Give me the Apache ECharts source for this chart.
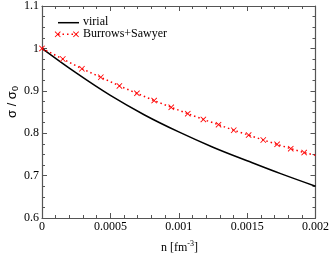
<!DOCTYPE html>
<html><head><meta charset="utf-8">
<script src="https://cdn.jsdelivr.net/npm/echarts@6/dist/echarts.min.js"></script>
<style>html,body{margin:0;padding:0;background:#fff}#c{width:332px;height:256px}</style>
</head><body><div id="c"></div>
<script>
// Data
const virialX = [0, 0.00025, 0.0005, 0.00075, 0.001, 0.00125, 0.0015, 0.00175, 0.002];
const virialY = [1.0, 0.942, 0.889, 0.843, 0.803, 0.767, 0.735, 0.704, 0.675];
const bsX = [0, 0.000152, 0.000292, 0.000430, 0.000566, 0.000694, 0.000820, 0.000945, 0.001066, 0.001180, 0.001291, 0.001402, 0.001511, 0.001618, 0.001719, 0.001819, 0.001917, 0.002];
const bsY = [1.0, 0.975, 0.952, 0.932, 0.9115, 0.894, 0.877, 0.861, 0.846, 0.8325, 0.820, 0.807, 0.7955, 0.784, 0.7737, 0.7636, 0.7542, 0.748];
const bsMarked = [1,1,1,1,1,1,1,1,1,1,1,1,1,1,1,1,1,0];
const xTicks = ['0', '0.0005', '0.001', '0.0015', '0.002'];
const yTicks = ['0.6', '0.7', '0.8', '0.9', '1', '1.1'];

const serif = 'Liberation Serif';
const axisColor = '#555';
const crossPath = 'path://M0,1L1,0L5,4L9,0L10,1L6,5L10,9L9,10L5,6L1,10L0,9L4,5Z';
const crossPts = [[0,1],[1,0],[5,4],[9,0],[10,1],[6,5],[10,9],[9,10],[5,6],[1,10],[0,9],[4,5]];
function crossAt(cx, cy, size) {
  return crossPts.map(p => [cx + (p[0] - 5) * size / 10, cy + (p[1] - 5) * size / 10]);
}

function axisCommon(show, pos, min, max, interval, minorSplit, labels) {
  return {
    type: 'value', position: pos, min: min, max: max, interval: interval,
    axisLine: {show: true, onZero: false, lineStyle: {color: axisColor, width: 1.2}},
    axisTick: {show: true, inside: true, length: 5, lineStyle: {color: axisColor}},
    minorTick: {show: true, splitNumber: minorSplit, length: 3, lineStyle: {color: axisColor}},
    splitLine: {show: false},
    axisLabel: show ? {
      show: true, fontFamily: serif, fontSize: 12, color: '#000', margin: 3,
      formatter: function (v) {
        const idx = Math.round((v - min) / interval);
        return labels[idx] !== undefined ? labels[idx] : '';
      }
    } : {show: false}
  };
}

const chart = echarts.init(document.getElementById('c'));
chart.setOption({
  animation: false,
  backgroundColor: '#fff',
  grid: {left: 42, right: 14, top: 5, bottom: 38},
  xAxis: [
    axisCommon(true, 'bottom', 0, 0.002, 0.0005, 5, xTicks),
    axisCommon(false, 'top', 0, 0.002, 0.0005, 5, xTicks)
  ],
  yAxis: [
    axisCommon(true, 'left', 0.6, 1.1, 0.1, 4, yTicks),
    axisCommon(false, 'right', 0.6, 1.1, 0.1, 4, yTicks)
  ],
  series: [
    {
      name: 'virial', type: 'line', smooth: 0.4, symbol: 'none',
      lineStyle: {color: '#000', width: 1.5},
      data: virialX.map((x, i) => [x, virialY[i]])
    },
    {
      name: 'Burrows+Sawyer', type: 'line', symbol: crossPath, symbolSize: 6,
      itemStyle: {color: '#ff0000'},
      lineStyle: {color: '#ff0000', width: 1.5, type: [1.5, 3]},
      data: bsX.map((x, i) => bsMarked[i] ? [x, bsY[i]] : {value: [x, bsY[i]], symbol: 'none'})
    }
  ],
  graphic: [
    // legend
    {type: 'line', shape: {x1: 58, y1: 22.7, x2: 79, y2: 22.7}, style: {stroke: '#000', lineWidth: 1.5}},
    {type: 'text', x: 83, y: 16, style: {text: 'virial', font: '12px "Liberation Serif"', fill: '#000'}},
    {type: 'line', shape: {x1: 58, y1: 34.3, x2: 77, y2: 34.3}, style: {stroke: '#ff0000', lineWidth: 1.5, lineDash: [1.5, 3]}},
    {type: 'polygon', shape: {points: crossAt(57.7, 34.3, 6)}, style: {fill: '#ff0000'}},
    {type: 'polygon', shape: {points: crossAt(76, 34.3, 6)}, style: {fill: '#ff0000'}},
    {type: 'text', x: 83, y: 27.5, style: {text: 'Burrows+Sawyer', font: '12px "Liberation Serif"', fill: '#000'}},
    // axis titles
    {type: 'text', x: 4, y: 118, rotation: Math.PI / 2,
      style: {text: 'σ / σ{sub|0}', font: '13px "Liberation Sans"', fill: '#000',
        rich: {sub: {fontFamily: 'Liberation Sans', fontSize: 9, fill: '#000', padding: [7, 0, 0, 0]}}}},
    {type: 'text', x: 161, y: 240,
      style: {text: 'n [fm{sup|-3}]', font: '12px "Liberation Serif"', fill: '#000',
        rich: {sup: {fontFamily: serif, fontSize: 8, fill: '#000', padding: [0, 0, 7, 0]}}}}
  ]
});
</script></body></html>
